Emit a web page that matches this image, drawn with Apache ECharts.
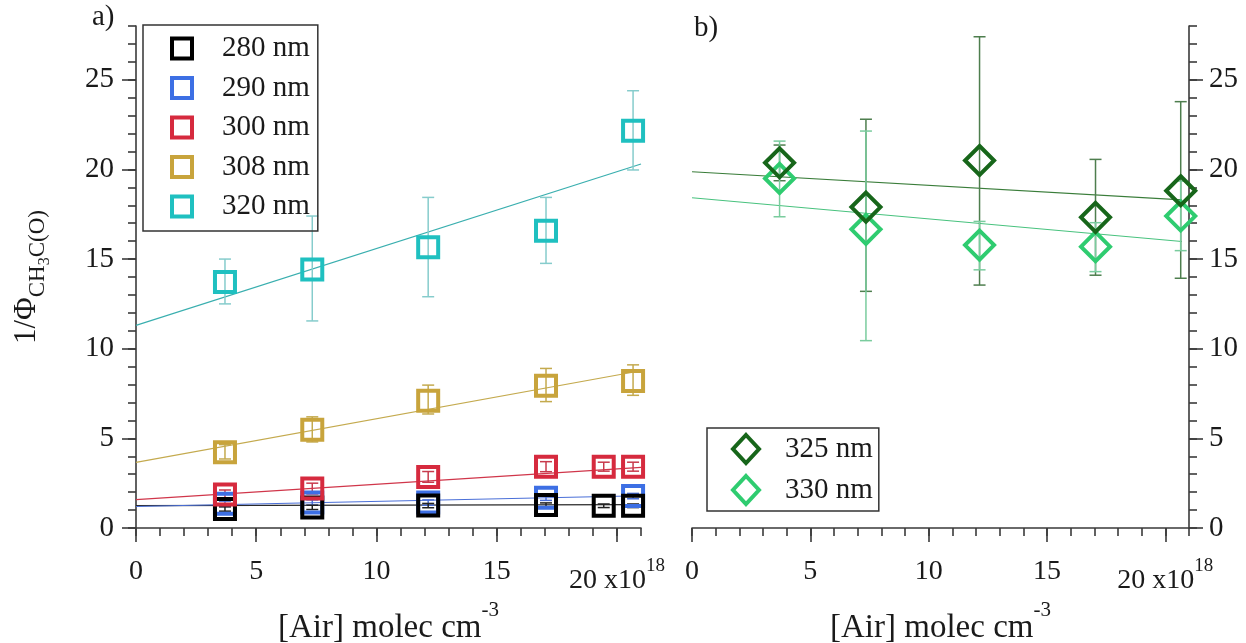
<!DOCTYPE html>
<html>
<head>
<meta charset="utf-8">
<script src="https://cdn.jsdelivr.net/npm/echarts@6/dist/echarts.min.js"></script>
<style>
  html, body { margin: 0; padding: 0; background: #fff; }
  #chart { width: 1246px; height: 643px; }
</style>
</head>
<body>
<div id="chart"></div>
<script>
// [Air] number density (x10^18 molec cm^-3) at each measurement
const airA6 = [3.7, 7.33, 12.15, 17.05, 19.45, 20.67];
const airA5 = [3.7, 7.33, 12.15, 17.05, 20.67];
const airB = [3.7, 7.35, 12.15, 17.05, 20.65];

// 1/Φ(CH3C(O)) with uncertainties, panel a
const inv280 = [1.06, 1.15, 1.25, 1.28, 1.24, 1.24];
const err280 = [0.12, 0.12, 0.12, 0.12, 0.1, 0.1];
const inv290 = [1.35, 1.42, 1.42, 1.69, 1.78];
const err290 = [0.15, 0.15, 0.15, 0.15, 0.15];
const inv300 = [1.87, 2.2, 2.85, 3.42, 3.42, 3.42];
const err300 = [0.25, 0.3, 0.3, 0.28, 0.25, 0.25];
const inv308 = [4.22, 5.48, 7.1, 7.94, 8.2];
const low308 = [3.85, 4.8, 6.36, 7.05, 7.4];
const high308 = [4.65, 6.2, 7.97, 8.9, 9.1];
const inv320 = [13.72, 14.42, 15.66, 16.58, 22.16];
const low320 = [12.5, 11.55, 12.9, 14.76, 19.97];
const high320 = [15.0, 17.4, 18.44, 18.44, 24.39];

// panel b
const inv325 = [20.37, 17.9, 20.5, 17.33, 18.81];
const low325 = [19.37, 13.2, 13.55, 14.1, 13.93];
const high325 = [21.36, 22.8, 27.4, 20.56, 23.78];
const inv330 = [19.5, 16.66, 15.78, 15.69, 17.4];
const low330 = [17.36, 10.45, 14.4, 14.3, 15.47];
const high330 = [21.58, 22.14, 17.1, 17.03, 19.35];

// linear fits: [value at start, value at end] over the x span given
const fitSpanA = [0, 21];
const fitSpanB = [0, 20.7];
const fit280 = [1.25, 1.3];
const fit290 = [1.2, 1.8];
const fit300 = [1.58, 3.38];
const fit308 = [3.66, 8.77];
const fit320 = [11.3, 20.3];
const fit325 = [19.87, 18.3];
const fit330 = [18.42, 15.98];

// tick labels
const xTicks = [0, 5, 10, 15, 20];
const yTicks = [0, 5, 10, 15, 20, 25];

const serif = 'Liberation Serif';
const ink = '#1a1a1a';
const axisColor = '#3a3a3a';

const C = {
  k280: '#000000', k290: '#3d6fe4', k300: '#d62a3e', k308: '#c8a43c', k320: '#1fc0c0',
  k325: '#17661a', k330: '#2fcc70'
};

const chart = echarts.init(document.getElementById('chart'), null, { renderer: 'canvas' });

function xAxisPair(grid) {
  return [{
    type: 'value', gridIndex: grid, position: 'bottom', min: 0, max: 21, interval: 1,
    axisLine: { onZero: false, lineStyle: { color: axisColor, width: 1.6 } },
    axisTick: { length: 8, lineStyle: { color: axisColor, width: 1.6 } },
    splitLine: { show: false },
    axisLabel: {
      customValues: xTicks, margin: 29, color: ink,
      formatter: v => v === 20 ? '{b|20 x10}{s|18}' : '{n|' + v + '}',
      rich: {
        n: { fontFamily: serif, fontSize: 28, lineHeight: 30, color: ink },
        b: { fontFamily: serif, fontSize: 28, lineHeight: 30, color: ink, verticalAlign: 'top', padding: [10, 0, 0, 0] },
        s: { fontFamily: serif, fontSize: 19, lineHeight: 20, color: ink, verticalAlign: 'top' }
      }
    },
    name: '{m|[Air] molec cm}{s|-3}', nameLocation: 'middle', nameGap: 65,
    nameTextStyle: {
      rich: {
        m: { fontFamily: serif, fontSize: 33, lineHeight: 34, color: ink, verticalAlign: 'top', padding: [12, 0, 0, 0] },
        s: { fontFamily: serif, fontSize: 21, lineHeight: 22, color: ink, verticalAlign: 'top' }
      }
    }
  }, {
    type: 'value', gridIndex: grid, position: 'bottom', min: 0, max: 21,
    axisLine: { show: false, onZero: false },
    axisTick: { customValues: xTicks, length: 14, lineStyle: { color: axisColor, width: 1.6 } },
    axisLabel: { show: false }, splitLine: { show: false }
  }];
}

function yAxisPair(grid, side, withName) {
  const main = {
    type: 'value', gridIndex: grid, position: side, min: 0, max: 28, interval: 1,
    axisLine: { show: true, onZero: false, lineStyle: { color: axisColor, width: 1.6 } },
    axisTick: { show: true, length: 8, lineStyle: { color: axisColor, width: 1.6 } },
    splitLine: { show: false },
    axisLabel: { customValues: yTicks, margin: side === 'left' ? 22 : 20, color: ink, fontFamily: serif, fontSize: 29 }
  };
  if (withName) {
    Object.assign(main, {
      name: '{a|1/Φ}{b|CH}{c|3}{b|C(O)}', nameLocation: 'middle', nameRotate: 90, nameGap: 93,
      nameTextStyle: {
        rich: {
          a: { fontFamily: serif, fontSize: 31, lineHeight: 32, color: ink, verticalAlign: 'top' },
          b: { fontFamily: serif, fontSize: 23, lineHeight: 24, color: ink, verticalAlign: 'top', padding: [15, 0, 0, 0] },
          c: { fontFamily: serif, fontSize: 16, lineHeight: 17, color: ink, verticalAlign: 'top', padding: [26, 0, 0, 0] }
        }
      }
    });
  }
  return [main, {
    type: 'value', gridIndex: grid, position: side, min: 0, max: 28,
    axisLine: { show: false, onZero: false },
    axisTick: { show: true, customValues: yTicks, length: 14, lineStyle: { color: axisColor, width: 1.6 } },
    axisLabel: { show: false }, splitLine: { show: false }
  }];
}

function pts(xs, ys) { return xs.map((x, i) => [x, ys[i]]); }

function errBars(xs, lo, hi, color, ax) {
  return {
    type: 'custom', xAxisIndex: ax, yAxisIndex: ax, silent: true, z: 2,
    data: xs.map((x, i) => [x, lo[i], hi[i]]),
    encode: { x: 0, y: [1, 2] },
    renderItem(params, api) {
      const x = api.value(0);
      const a = api.coord([x, api.value(1)]);
      const b = api.coord([x, api.value(2)]);
      const w = 6;
      const st = { stroke: color, lineWidth: 1.5 };
      return {
        type: 'group', children: [
          { type: 'line', shape: { x1: a[0], y1: a[1], x2: b[0], y2: b[1] }, style: st },
          { type: 'line', shape: { x1: a[0] - w, y1: a[1], x2: a[0] + w, y2: a[1] }, style: st },
          { type: 'line', shape: { x1: b[0] - w, y1: b[1], x2: b[0] + w, y2: b[1] }, style: st }
        ]
      };
    }
  };
}

function symErr(xs, v, e, color, ax) {
  return errBars(xs, v.map((y, i) => y - e[i]), v.map((y, i) => y + e[i]), color, ax);
}

function fitLine(span, fit, color, ax) {
  return {
    type: 'line', xAxisIndex: ax, yAxisIndex: ax, silent: true, z: 1,
    data: pts(span, fit), symbol: 'none', lineStyle: { color: color, width: 1.2 }
  };
}

function markers(name, xs, ys, color, ax, symbol, size) {
  return {
    type: 'scatter', name: name, xAxisIndex: ax, yAxisIndex: ax, silent: true, z: 3,
    symbol: symbol, symbolSize: size, data: pts(xs, ys),
    itemStyle: { color: 'rgba(0,0,0,0)', borderColor: color, borderWidth: 4, opacity: 1 }
  };
}

function legendItem(name, color, icon) {
  return { name: name, icon: icon, itemStyle: { color: 'rgba(0,0,0,0)', borderColor: color, borderWidth: 4 } };
}

const xs = xAxisPair(0).concat(xAxisPair(1));
const ys = yAxisPair(0, 'left', true).concat(yAxisPair(1, 'right', false));

const option = {
  backgroundColor: '#ffffff',
  animation: false,
  grid: [
    { left: 136, top: 26, width: 505, height: 502, outerBoundsMode: 'none', containLabel: false },
    { left: 692, top: 26, width: 497, height: 502, outerBoundsMode: 'none', containLabel: false }
  ],
  xAxis: xs,
  yAxis: ys,
  legend: [{
    orient: 'vertical', left: 143, top: 25, selectedMode: false,
    padding: [9, 8, 10, 27], itemGap: 10.5, itemWidth: 20, itemHeight: 20,
    borderColor: '#333', borderWidth: 1.5,
    textStyle: { fontFamily: serif, fontSize: 29, color: ink, lineHeight: 24, padding: [0, 0, 0, 25] },
    data: [
      legendItem('280 nm', C.k280, 'rect'),
      legendItem('290 nm', C.k290, 'rect'),
      legendItem('300 nm', C.k300, 'rect'),
      legendItem('308 nm', C.k308, 'rect'),
      legendItem('320 nm', C.k320, 'rect')
    ]
  }, {
    orient: 'vertical', left: 707, top: 428, selectedMode: false,
    padding: [5, 6, 5, 24], itemGap: 9, itemWidth: 26, itemHeight: 28,
    borderColor: '#333', borderWidth: 1.5,
    textStyle: { fontFamily: serif, fontSize: 29, color: ink, lineHeight: 30, padding: [0, 0, 0, 21] },
    data: [
      legendItem('325 nm', C.k325, 'diamond'),
      legendItem('330 nm', C.k330, 'diamond')
    ]
  }],
  graphic: [
    { type: 'text', left: 92, top: 3, style: { text: 'a)', font: '29px "Liberation Serif"', fill: ink } },
    { type: 'text', left: 694, top: 14, style: { text: 'b)', font: '29px "Liberation Serif"', fill: ink } }
  ],
  series: [
    // fits
    fitLine(fitSpanA, fit280, '#2a2a2a', 0),
    fitLine(fitSpanA, fit290, '#4a6fd8', 0),
    fitLine(fitSpanA, fit300, '#d0364a', 0),
    fitLine(fitSpanA, fit308, '#c4aa4e', 0),
    fitLine(fitSpanA, fit320, '#3aafaf', 0),
    fitLine(fitSpanB, fit325, '#3a7d3a', 2),
    fitLine(fitSpanB, fit330, '#48c27e', 2),
    // uncertainties
    symErr(airA5, inv290, err290, '#4a6fd8', 0),
    symErr(airA6, inv280, err280, '#222222', 0),
    symErr(airA6, inv300, err300, '#c83a4c', 0),
    errBars(airA5, low308, high308, '#c4aa4e', 0),
    errBars(airA5, low320, high320, '#86cccc', 0),
    errBars(airB, low325, high325, '#4e7e4e', 2),
    errBars(airB, low330, high330, '#7acc9e', 2),
    // measurements
    markers('290 nm', airA5, inv290, C.k290, 0, 'rect', 20),
    markers('280 nm', airA6, inv280, C.k280, 0, 'rect', 20),
    markers('300 nm', airA6, inv300, C.k300, 0, 'rect', 20),
    markers('308 nm', airA5, inv308, C.k308, 0, 'rect', 20),
    markers('320 nm', airA5, inv320, C.k320, 0, 'rect', 20),
    markers('330 nm', airB, inv330, C.k330, 2, 'diamond', 29),
    markers('325 nm', airB, inv325, C.k325, 2, 'diamond', 29)
  ]
};

chart.setOption(option);
</script>
</body>
</html>
